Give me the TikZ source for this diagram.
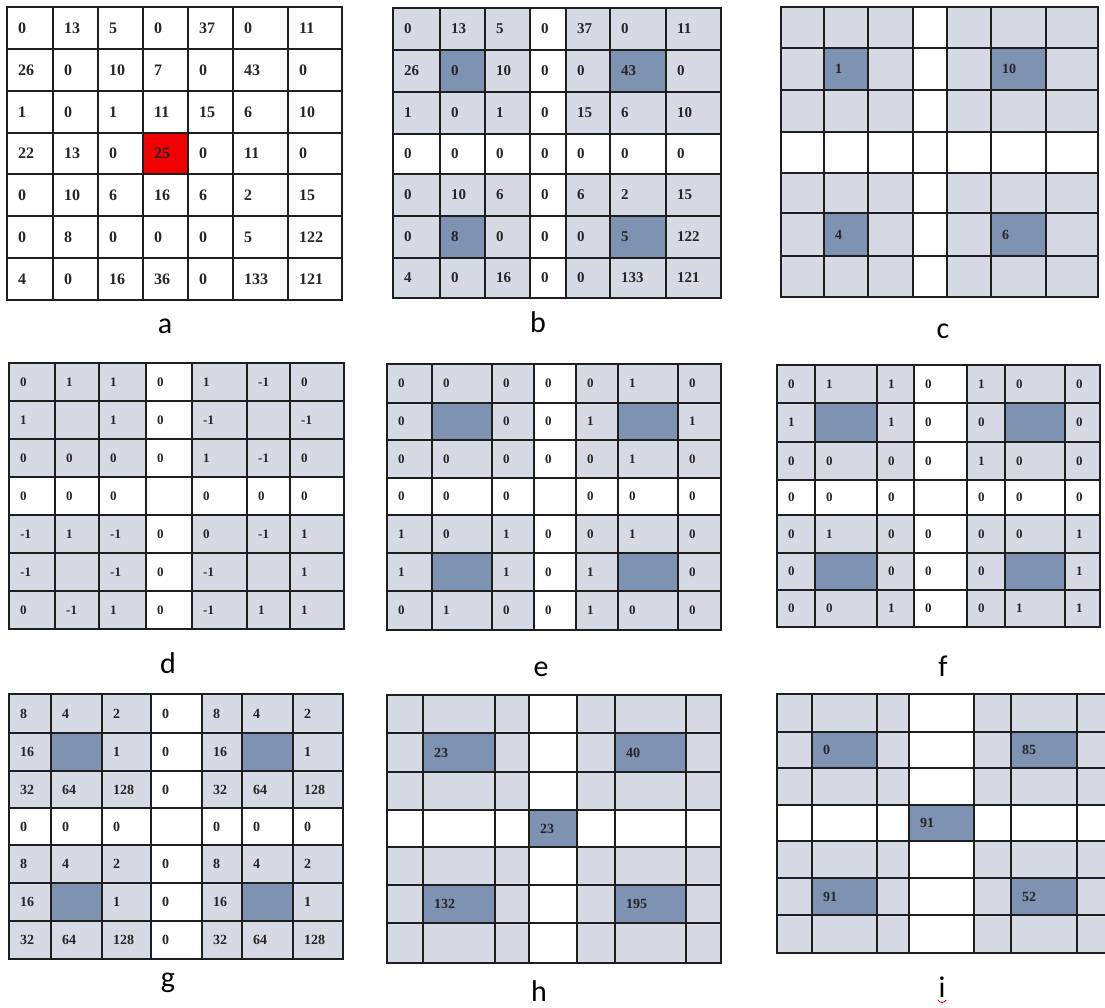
\documentclass[tikz,border=0pt]{standalone}
\usepackage{fontspec}
\setmainfont{Liberation Serif}
\newfontfamily\labfont{Carlito}
\definecolor{cellw}{HTML}{FFFFFF}
\definecolor{celll}{HTML}{D5DAE5}
\definecolor{celld}{HTML}{7E92B2}
\definecolor{cellr}{HTML}{F00000}
\definecolor{gline}{HTML}{1E1E1E}
\tikzset{
  gridline/.style={draw=gline, line width=2pt, line cap=rect},
  celltext/.style={anchor=west, inner sep=0pt, text=black!85, font=\bfseries\fontsize{#1}{#1}\selectfont},
  lab/.style={anchor=base, inner sep=0pt, font=\labfont\fontsize{30}{30}\selectfont}
}
\newcommand\drawgrid[5]{%
  \foreach \s/\t [count=\k from 0] in {#4} {
    \pgfmathtruncatemacro\rr{int(\k/7)}
    \pgfmathtruncatemacro\cc{mod(\k,7)}
    \pgfmathsetmacro\xa{{#2}[\cc]}
    \pgfmathsetmacro\xb{{#2}[\cc+1]}
    \pgfmathsetmacro\ya{{#3}[\rr]}
    \pgfmathsetmacro\yb{{#3}[\rr+1]}
    \fill[cell\s] (\xa,\ya) rectangle (\xb,\yb);
    \node[celltext=#5] (#1-\rr-\cc) at ({\xa+11},{(\ya+\yb)/2}) {\t};
  }
  \foreach \j in {0,...,7} {
    \pgfmathsetmacro\xx{{#2}[\j]}
    \pgfmathsetmacro\yy{{#3}[\j]}
    \pgfmathsetmacro\xl{{#2}[0]}
    \pgfmathsetmacro\xr{{#2}[7]}
    \pgfmathsetmacro\yt{{#3}[0]}
    \pgfmathsetmacro\ybt{{#3}[7]}
    \draw[gridline] (\xx,\yt) -- (\xx,\ybt);
    \draw[gridline] (\xl,\yy) -- (\xr,\yy);
  }
}
\begin{document}
\begin{tikzpicture}[x=1pt,y=-1pt]
\clip (0,0) rectangle (1105,1007);
\fill[white] (0,0) rectangle (1105,1007);
% a
\drawgrid{a}{7,53,98,143,188,233,288,342}{7,49,91,133,174,216,258,300}{
w/0,w/13,w/5,w/0,w/37,w/0,w/11,
w/26,w/0,w/10,w/7,w/0,w/43,w/0,
w/1,w/0,w/1,w/11,w/15,w/6,w/10,
w/22,w/13,w/0,r/25,w/0,w/11,w/0,
w/0,w/10,w/6,w/16,w/6,w/2,w/15,
w/0,w/8,w/0,w/0,w/0,w/5,w/122,
w/4,w/0,w/16,w/36,w/0,w/133,w/121}{16}
% b
\drawgrid{b}{393,440,485,530,566,610,666,721}{8,50,92,134,174,216,258,298}{
l/0,l/13,l/5,w/0,l/37,l/0,l/11,
l/26,d/0,l/10,w/0,l/0,d/43,l/0,
l/1,l/0,l/1,w/0,l/15,l/6,l/10,
w/0,w/0,w/0,w/0,w/0,w/0,w/0,
l/0,l/10,l/6,w/0,l/6,l/2,l/15,
l/0,d/8,l/0,w/0,l/0,d/5,l/122,
l/4,l/0,l/16,w/0,l/0,l/133,l/121}{15}
% c
\drawgrid{c}{781,824,868,913,947,991,1046,1098}{7,48,90,132,173,213,256,297}{
l/{},l/{},l/{},w/{},l/{},l/{},l/{},
l/{},d/1,l/{},w/{},l/{},d/10,l/{},
l/{},l/{},l/{},w/{},l/{},l/{},l/{},
w/{},w/{},w/{},w/{},w/{},w/{},w/{},
l/{},l/{},l/{},w/{},l/{},l/{},l/{},
l/{},d/4,l/{},w/{},l/{},d/6,l/{},
l/{},l/{},l/{},w/{},l/{},l/{},l/{}}{14}
% d
\drawgrid{d}{9,55,99,146,192,247,290,344}{363,401,439,477,515,553,591,629}{
l/0,l/1,l/1,w/0,l/1,l/-1,l/0,
l/1,l/{},l/1,w/0,l/-1,l/{},l/-1,
l/0,l/0,l/0,w/0,l/1,l/-1,l/0,
w/0,w/0,w/0,w/{},w/0,w/0,w/0,
l/-1,l/1,l/-1,w/0,l/0,l/-1,l/1,
l/-1,l/{},l/-1,w/0,l/-1,l/{},l/1,
l/0,l/-1,l/1,w/0,l/-1,l/1,l/1}{13}
% e
\drawgrid{e}{387,432,492,534,576,618,678,721}{364,403,440,478,515,553,591,630}{
l/0,l/0,l/0,w/0,l/0,l/1,l/0,
l/0,d/{},l/0,w/0,l/1,d/{},l/1,
l/0,l/0,l/0,w/0,l/0,l/1,l/0,
w/0,w/0,w/0,w/{},w/0,w/0,w/0,
l/1,l/0,l/1,w/0,l/0,l/1,l/0,
l/1,d/{},l/1,w/0,l/1,d/{},l/0,
l/0,l/1,l/0,w/0,l/1,l/0,l/0}{13}
% f
\drawgrid{f}{777,815,877,914,967,1005,1065,1100}{365,403,442,480,515,553,590,627}{
l/0,l/1,l/1,w/0,l/1,l/0,l/0,
l/1,d/{},l/1,w/0,l/0,d/{},l/0,
l/0,l/0,l/0,w/0,l/1,l/0,l/0,
w/0,w/0,w/0,w/{},w/0,w/0,w/0,
l/0,l/1,l/0,w/0,l/0,l/0,l/1,
l/0,d/{},l/0,w/0,l/0,d/{},l/1,
l/0,l/0,l/1,w/0,l/0,l/1,l/1}{13}
% g
\drawgrid{g}{9,51,102,151,202,242,293,343}{694,733,771,808,845,883,921,959}{
l/8,l/4,l/2,w/0,l/8,l/4,l/2,
l/16,d/{},l/1,w/0,l/16,d/{},l/1,
l/32,l/64,l/128,w/0,l/32,l/64,l/128,
w/0,w/0,w/0,w/{},w/0,w/0,w/0,
l/8,l/4,l/2,w/0,l/8,l/4,l/2,
l/16,d/{},l/1,w/0,l/16,d/{},l/1,
l/32,l/64,l/128,w/0,l/32,l/64,l/128}{14}
% h
\drawgrid{h}{387,423,495,529,577,615,686,721}{695,733,772,810,847,885,923,963}{
l/{},l/{},l/{},w/{},l/{},l/{},l/{},
l/{},d/23,l/{},w/{},l/{},d/40,l/{},
l/{},l/{},l/{},w/{},l/{},l/{},l/{},
w/{},w/{},w/{},d/23,w/{},w/{},w/{},
l/{},l/{},l/{},w/{},l/{},l/{},l/{},
l/{},d/132,l/{},w/{},l/{},d/195,l/{},
l/{},l/{},l/{},w/{},l/{},l/{},l/{}}{14}
% i
\drawgrid{i}{777,812,877,909,974,1011,1077,1140}{694,732,768,805,841,878,915,953}{
l/{},l/{},l/{},w/{},l/{},l/{},l/{},
l/{},d/0,l/{},w/{},l/{},d/85,l/{},
l/{},l/{},l/{},w/{},l/{},l/{},l/{},
w/{},w/{},w/{},d/91,w/{},w/{},w/{},
l/{},l/{},l/{},w/{},l/{},l/{},l/{},
l/{},d/91,l/{},w/{},l/{},d/52,l/{},
l/{},l/{},l/{},w/{},l/{},l/{},l/{}}{14}
% labels
\node[lab] (la) at (165,333) {a};
\node[lab] (lb) at (538,332) {b};
\node[lab] (lc) at (943,338) {c};
\node[lab] (ld) at (168,673) {d};
\node[lab] (le) at (541,676) {e};
\node[lab] (lf) at (943,676) {f};
\node[lab] (lg) at (168,987) {g};
\node[lab] (lh) at (539,1001) {h};
\node[lab] (li) at (942,997) {i};
\draw[red!80!black, line width=0.8pt] ([xshift=-4pt,yshift=-3pt]li.south) .. controls ([xshift=-2pt,yshift=-6pt]li.south) and ([xshift=2pt,yshift=-6pt]li.south) .. ([xshift=4pt,yshift=-3pt]li.south);
\end{tikzpicture}
\end{document}
